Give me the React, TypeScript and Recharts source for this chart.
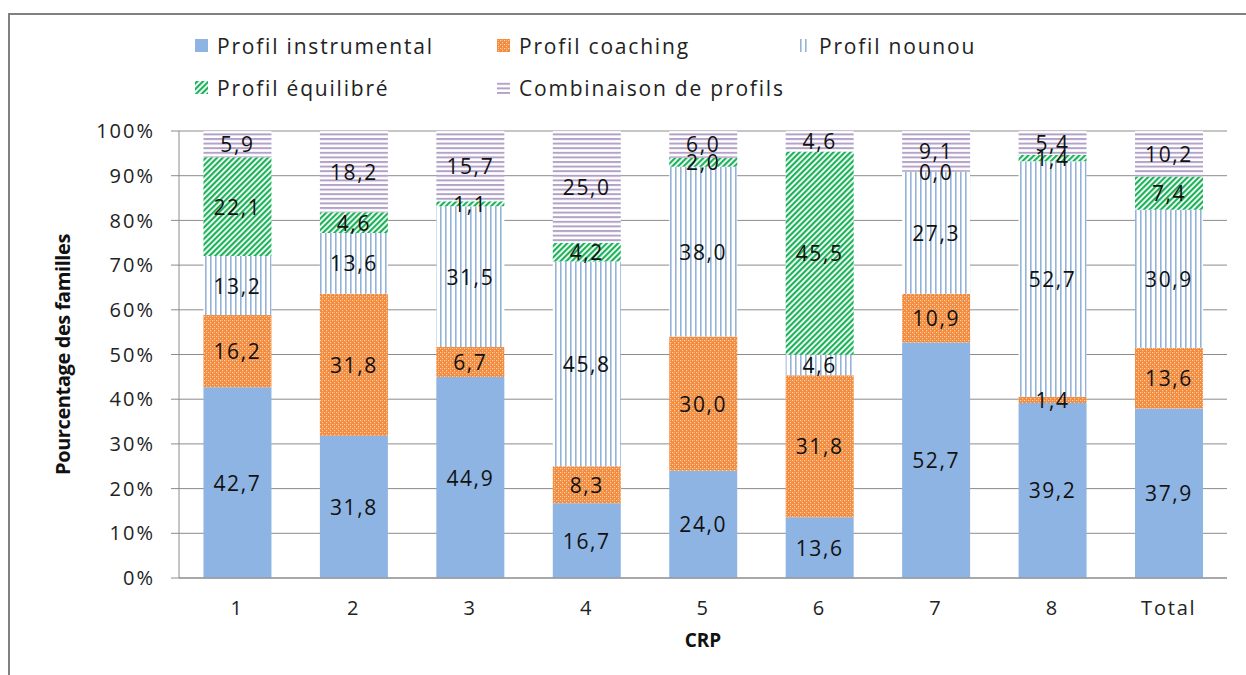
import React from 'react';
import { BarChart, Bar, XAxis, YAxis, CartesianGrid, LabelList } from 'recharts';

const CATEGORIES = ['1', '2', '3', '4', '5', '6', '7', '8', 'Total'];
const INSTRUMENTAL = [42.7, 31.8, 44.9, 16.7, 24.0, 13.6, 52.7, 39.2, 37.9];
const COACHING = [16.2, 31.8, 6.7, 8.3, 30.0, 31.8, 10.9, 1.4, 13.6];
const NOUNOU = [13.2, 13.6, 31.5, 45.8, 38.0, 4.6, 27.3, 52.7, 30.9];
const EQUILIBRE = [22.1, 4.6, 1.1, 4.2, 2.0, 45.5, 0.0, 1.4, 7.4];
const COMBINAISON = [5.9, 18.2, 15.7, 25.0, 6.0, 4.6, 9.1, 5.4, 10.2];
const Y_TICKS = [0, 0.1, 0.2, 0.3, 0.4, 0.5, 0.6, 0.7, 0.8, 0.9, 1];

const SERIES = [
    { key: 'instrumental', name: 'Profil instrumental', fill: '#8EB4E3' },
    { key: 'coaching', name: 'Profil coaching', fill: 'url(#p-coaching)' },
    { key: 'nounou', name: 'Profil nounou', fill: 'url(#p-nounou)' },
    { key: 'equilibre', name: 'Profil équilibré', fill: 'url(#p-equilibre)' },
    { key: 'combinaison', name: 'Combinaison de profils', fill: 'url(#p-combinaison)' },
];

const data = CATEGORIES.map((crp, i) => ({
    crp,
    instrumental: INSTRUMENTAL[i],
    coaching: COACHING[i],
    nounou: NOUNOU[i],
    equilibre: EQUILIBRE[i],
    combinaison: COMBINAISON[i],
}));

const FONT = '"Open Sans", "Noto Sans", sans-serif';
const fmt = (v: number) => v.toFixed(1).replace('.', ',');

const Patterns = () => (
    <defs>
        <pattern id="p-coaching" width="4" height="4" patternUnits="userSpaceOnUse">
            <rect width="4" height="4" fill="#F28A3C" />
            <rect x="0" y="0" width="1.2" height="1.2" fill="#FBD3B0" />
            <rect x="2" y="2" width="1.2" height="1.2" fill="#FBD3B0" />
            <rect x="2" y="0" width="1" height="1" fill="#F7B07A" />
        </pattern>
        <pattern id="p-nounou" width="5" height="5" patternUnits="userSpaceOnUse">
            <rect width="5" height="5" fill="#ffffff" />
            <rect x="0" y="0" width="1.6" height="5" fill="#95B3D7" />
        </pattern>
        <pattern id="p-equilibre" width="4" height="4" patternUnits="userSpaceOnUse" patternTransform="rotate(45)">
            <rect width="4" height="4" fill="#ffffff" />
            <rect x="0" y="0" width="2.2" height="4" fill="#1DB25A" />
        </pattern>
        <pattern id="p-combinaison" width="5" height="4.6" patternUnits="userSpaceOnUse">
            <rect width="5" height="4.6" fill="#ffffff" />
            <rect x="0" y="0" width="5" height="2" fill="#B3A2C7" />
        </pattern>
    </defs>
);

// all segment labels of one column, drawn from the top segment so they sit above every bar
// (a 0,0 segment has no height and would otherwise get no label)
const ColumnLabels = (props: any) => {
    const { index } = props;
    const vb = props.viewBox || props;
    const { x, y, width, height } = vb;
    const vals = SERIES.map((s) => (data[index] as any)[s.key] as number);
    const sum = vals.reduce((a, b) => a + b, 0);
    const full = (height * sum) / vals[vals.length - 1];
    const bottom = y + full;
    let acc = 0;
    return (
        <g>
            {vals.map((v, i) => {
                const cy = bottom - ((acc + v / 2) / sum) * full;
                acc += v;
                return (
                    <text
                        key={i}
                        x={x + width / 2}
                        y={cy}
                        textAnchor="middle"
                        dominantBaseline="central"
                        fontFamily={FONT}
                        fontSize={21}
                        letterSpacing={1.6}
                        fill="#111"
                    >
                        {fmt(v)}
                    </text>
                );
            })}
        </g>
    );
};

const LEGEND_POS = [
    { x: 195, y: 46 },
    { x: 497, y: 46 },
    { x: 797, y: 46 },
    { x: 195, y: 88 },
    { x: 497, y: 88 },
];

const ChartLegend = () => (
    <svg width={1246} height={120} style={{ position: 'absolute', left: 0, top: 0 }}>
        {SERIES.map((s, i) => (
            <g key={s.key}>
                <rect x={LEGEND_POS[i].x} y={LEGEND_POS[i].y - 7} width={13} height={13} fill={s.fill} />
                <text
                    x={LEGEND_POS[i].x + 22}
                    y={LEGEND_POS[i].y}
                    dominantBaseline="central"
                    fontFamily={FONT}
                    fontSize={21}
                    letterSpacing={1.8}
                    fill="#222"
                >
                    {s.name}
                </text>
            </g>
        ))}
    </svg>
);

export default function App() {
    return (
        <div style={{ position: 'absolute', left: 0, top: 0, width: 1246, height: 675, background: '#fff' }}>
            <div
                style={{
                    position: 'absolute', left: 8, top: 13, width: 1238, height: 662,
                    borderLeft: '2px solid #808080', borderTop: '2px solid #808080',
                }}
            />
            <BarChart
                width={1246}
                height={675}
                data={data}
                stackOffset="expand"
                barCategoryGap="21%"
                margin={{ top: 131, right: 19, bottom: 37, left: 0 }}
                style={{ position: 'absolute', left: 0, top: 0 }}
            >
                <Patterns />
                <CartesianGrid vertical={false} stroke="#8c8c8c" strokeWidth={1} />
                <XAxis
                    dataKey="crp"
                    height={60}
                    tickLine={false}
                    axisLine={{ stroke: '#8c8c8c' }}
                    tick={{ fontFamily: FONT, fontSize: 20, fill: '#222', letterSpacing: 1.8 }}
                    tickMargin={17}
                    label={{ value: 'CRP', position: 'insideBottom', offset: 0, dy: 9, fontFamily: FONT, fontSize: 19, fontWeight: 700, fill: '#111' }}
                />
                <YAxis
                    width={179}
                    domain={[0, 1]}
                    ticks={Y_TICKS}
                    tickFormatter={(v: number) => `${Math.round(v * 100)}%`}
                    tickSize={8}
                    tickMargin={16}
                    tickLine={{ stroke: '#8c8c8c' }}
                    axisLine={{ stroke: '#8c8c8c' }}
                    tick={{ fontFamily: FONT, fontSize: 20, fill: '#222', letterSpacing: 2 }}
                    label={{
                        value: 'Pourcentage des familles', angle: -90, position: 'insideLeft', offset: 0,
                        dx: 63, fontFamily: FONT, fontSize: 20, fontWeight: 700, fill: '#111',
                        letterSpacing: -0.4, style: { textAnchor: 'middle' },
                    }}
                />
                {SERIES.map((s, i) => (
                    <Bar key={s.key} dataKey={s.key} name={s.name} stackId="a" fill={s.fill} isAnimationActive={false}>
                        {i === SERIES.length - 1 && <LabelList dataKey={s.key} content={ColumnLabels} />}
                    </Bar>
                ))}
            </BarChart>
            <ChartLegend />
        </div>
    );
}
